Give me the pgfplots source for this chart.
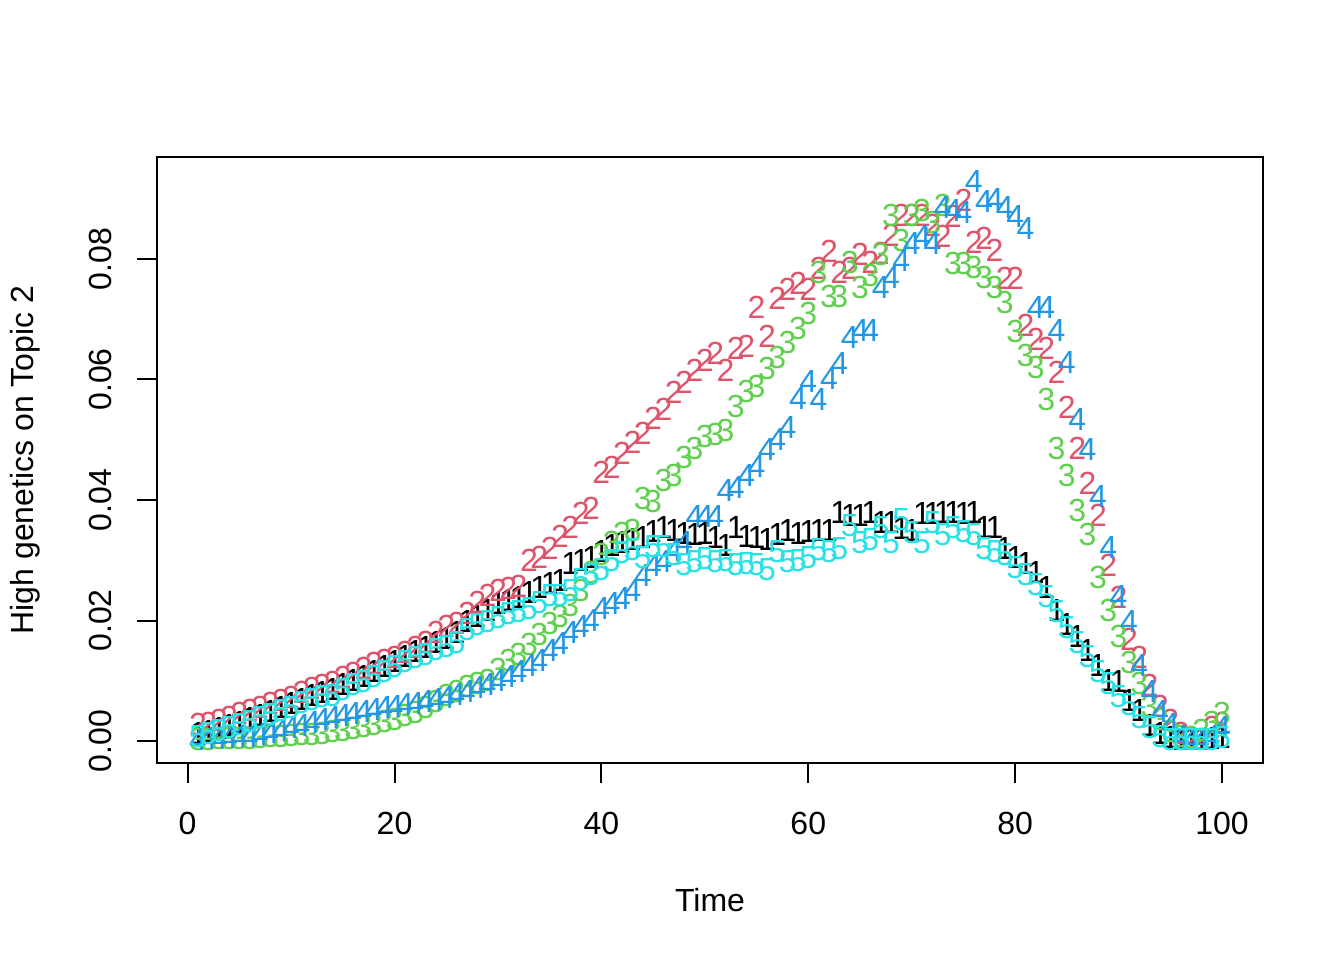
\documentclass[border=0pt]{standalone}
\usepackage{pgfplots}
\usepackage{pgfplotstable}
\pgfplotsset{compat=1.18}
\usepackage{fontspec}
\setmainfont{Liberation Sans}
\definecolor{rred}{HTML}{DF536B}
\definecolor{rgreen}{HTML}{61D04F}
\definecolor{rblue}{HTML}{2297E6}
\definecolor{rcyan}{HTML}{28E2E5}
\pgfplotstableread{
t a b c d e
1 .0012 .0027 .0003 .0003 .0007
2 .0016 .0030 .0003 .0004 .0013
3 .0020 .0035 .0004 .0005 .0017
4 .0026 .0040 .0004 .0006 .0022
5 .0031 .0046 .0005 .0007 .0027
6 .0037 .0051 .0005 .0008 .0032
7 .0043 .0056 .0006 .0011 .0038
8 .0049 .0063 .0007 .0014 .0043
9 .0056 .0068 .0008 .0018 .0051
10 .0062 .0073 .0009 .0022 .0056
11 .0069 .0080 .0010 .0026 .0063
12 .0075 .0088 .0011 .0030 .0068
13 .0080 .0093 .0013 .0035 .0073
14 .0085 .0098 .0015 .0039 .0076
15 .0093 .0106 .0018 .0043 .0085
16 .0101 .0113 .0021 .0046 .0093
17 .0107 .0121 .0024 .0049 .0098
18 .0115 .0129 .0028 .0052 .0106
19 .0124 .0134 .0032 .0055 .0115
20 .0132 .0139 .0036 .0057 .0123
21 .0140 .0148 .0042 .0060 .0131
22 .0148 .0156 .0048 .0063 .0138
23 .0155 .0163 .0056 .0065 .0143
24 .0163 .0180 .0065 .0069 .0151
25 .0170 .0190 .0075 .0073 .0156
26 .0180 .0196 .0082 .0078 .0163
27 .0198 .0212 .0090 .0083 .0184
28 .0206 .0230 .0095 .0088 .0193
29 .0217 .0242 .0101 .0093 .0198
30 .0229 .0250 .0118 .0100 .0205
31 .0234 .0254 .0134 .0107 .0212
32 .0239 .0256 .0143 .0115 .0214
33 .0247 .0300 .0160 .0126 .0220
34 .0255 .0305 .0176 .0134 .0230
35 .0262 .0320 .0195 .0150 .0242
36 .0267 .0339 .0206 .0162 .0242
37 .0295 .0355 .0225 .0180 .0250
38 .0300 .0378 .0250 .0190 .0267
39 .0305 .0387 .0280 .0200 .0276
40 .0314 .0446 .0310 .0220 .0284
41 .0325 .0455 .0330 .0229 .0300
42 .0329 .0478 .0345 .0236 .0312
43 .0334 .0495 .0350 .0250 .0317
44 .0337 .0511 .0402 .0275 .0304
45 .0347 .0536 .0398 .0292 .0322
46 .0355 .0550 .0432 .0298 .0322
47 .0350 .0578 .0440 .0316 .0310
48 .0345 .0595 .0470 .0330 .0292
49 .0342 .0615 .0486 .0372 .0297
50 .0345 .0632 .0505 .0372 .0303
51 .0337 .0644 .0508 .0372 .0298
52 .0325 .0616 .0515 .0415 .0300
53 .0354 .0652 .0555 .0420 .0292
54 .0339 .0655 .0580 .0441 .0295
55 .0337 .0719 .0588 .0455 .0292
56 .0334 .0671 .0619 .0483 .0284
57 .0342 .0735 .0636 .0500 .0314
58 .0350 .0749 .0662 .0520 .0297
59 .0345 .0760 .0685 .0569 .0300
60 .0347 .0749 .0710 .0596 .0305
61 .0350 .0785 .0778 .0566 .0317
62 .0350 .0812 .0738 .0602 .0314
63 .0380 .0778 .0738 .0627 .0320
64 .0375 .0785 .0795 .0669 .0358
65 .0375 .0807 .0752 .0682 .0330
66 .0380 .0795 .0773 .0682 .0334
67 .0362 .0810 .0807 .0753 .0354
68 .0362 .0840 .0872 .0770 .0329
69 .0352 .0873 .0830 .0798 .0367
70 .0350 .0873 .0873 .0826 .0345
71 .0378 .0873 .0881 .0837 .0329
72 .0378 .0856 .0860 .0826 .0363
73 .0380 .0837 .0888 .0886 .0342
74 .0380 .0870 .0793 .0880 .0354
75 .0378 .0898 .0793 .0877 .0347
76 .0380 .0827 .0786 .0928 .0342
77 .0354 .0835 .0770 .0895 .0320
78 .0354 .0815 .0752 .0898 .0314
79 .0320 .0768 .0727 .0886 .0309
80 .0305 .0768 .0679 .0870 .0288
81 .0295 .0690 .0640 .0851 .0276
82 .0280 .0666 .0620 .0719 .0259
83 .0254 .0652 .0566 .0719 .0239
84 .0217 .0612 .0486 .0682 .0214
85 .0193 .0554 .0441 .0629 .0188
86 .0173 .0486 .0382 .0533 .0164
87 .0151 .0428 .0342 .0483 .0140
88 .0126 .0375 .0272 .0405 .0115
89 .0101 .0292 .0217 .0322 .0096
90 .0098 .0239 .0173 .0240 .0073
91 .0068 .0168 .0130 .0199 .0060
92 .0050 .0139 .0095 .0125 .0038
93 .0025 .0093 .0058 .0083 .0022
94 .0013 .0058 .0035 .0049 .0007
95 .0006 .0034 .0015 .0027 .0003
96 .0003 .0013 .0008 .0008 .0002
97 .0002 .0003 .0006 .0003 .0002
98 .0002 .0002 .0018 .0003 .0002
99 .0004 .0023 .0030 .0008 .0003
100 .0006 .0030 .0045 .0022 .0006
}\data
\begin{document}
\begin{tikzpicture}
\useasboundingbox (0,0) rectangle (504bp,360bp);
\begin{axis}[
  at={(58.875bp,73.875bp)}, anchor=south west,
  scale only axis, width=414.75bp, height=227.25bp,
  xmin=-2.96, xmax=103.96, ymin=-0.00365, ymax=0.09693,
  axis line style={line width=0.75bp, black},
  every tick/.style={line width=0.75bp, black},
  tick align=outside, major tick length=7.5bp,
  tick pos=left,
  xtick={0,20,40,60,80,100}, xticklabels={0,20,40,60,80,100},
  ytick={0,0.02,0.04,0.06,0.08}, yticklabels={0.00,0.02,0.04,0.06,0.08},
  scaled y ticks=false,
  /pgf/number format/assume math mode=true,
  ticklabel style={font=\fontsize{12bp}{14bp}\selectfont, inner sep=0pt},
  xticklabel style={anchor=north, yshift=-10.7bp},
  yticklabel style={rotate=90, anchor=south, yshift=9.4bp},
  xlabel={Time}, ylabel={High genetics on Topic 2},
  label style={font=\fontsize{12bp}{14bp}\selectfont},
  xlabel style={at={(axis description cs:0.5,-0.226)}, anchor=center},
  ylabel style={at={(axis description cs:-0.1193,0.5)}, anchor=center},
  text mark as node=true,
  text mark style={font=\fontsize{12bp}{14bp}\selectfont, inner sep=0pt, anchor=center},
  clip=false,
]
\addplot[only marks, black, mark=text, text mark={1}] table[x=t,y=a] {\data};
\addplot[only marks, rred, mark=text, text mark={2}] table[x=t,y=b] {\data};
\addplot[only marks, rgreen, mark=text, text mark={3}] table[x=t,y=c] {\data};
\addplot[only marks, rblue, mark=text, text mark={4}] table[x=t,y=d] {\data};
\addplot[only marks, rcyan, mark=text, text mark={5}] table[x=t,y=e] {\data};
\end{axis}
\end{tikzpicture}
\end{document}
